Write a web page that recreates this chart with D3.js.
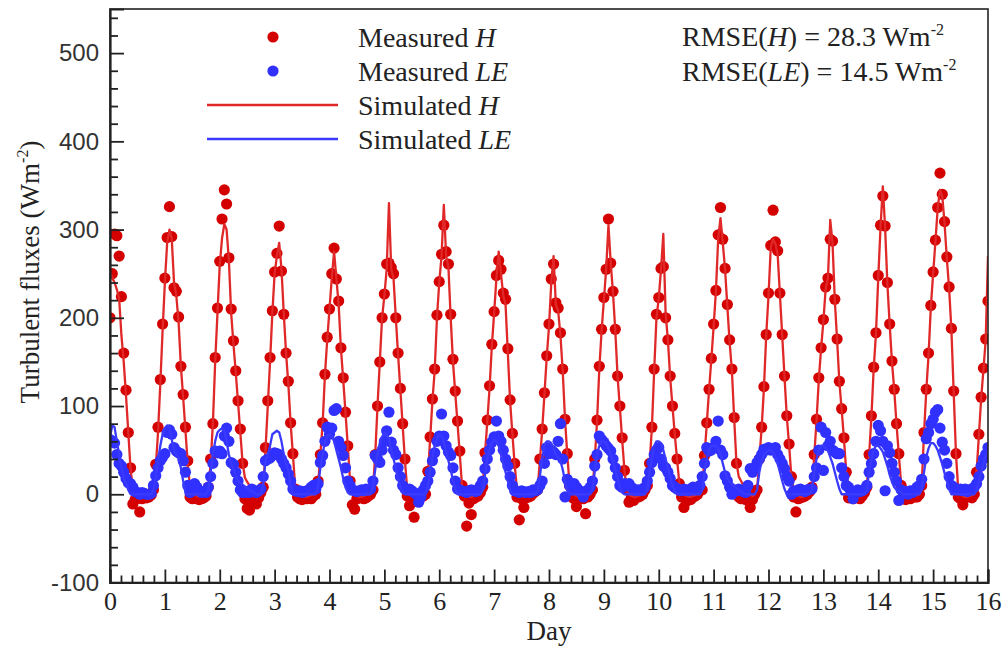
<!DOCTYPE html>
<html><head><meta charset="utf-8">
<script src="https://cdn.jsdelivr.net/npm/d3@7"></script>
<style>body{margin:0;background:#fff}svg{display:block}</style>
</head><body>
<svg id="chart" width="1005" height="654"></svg>
<script>
// ---- data (hourly samples, 24 per day, day 0 .. 16) ----
const xTickValues = [0,1,2,3,4,5,6,7,8,9,10,11,12,13,14,15,16];
const xTickLabels = ["0","1","2","3","4","5","6","7","8","9","10","11","12","13","14","15","16"];
const yTickValues = [-100,0,100,200,300,400,500];
const yTickLabels = ["-100","0","100","200","300","400","500"];
const samplesPerDay = 24;

const measuredH = [
 200,250,295,293,270,224,160,118,70,30,-11,-6,-4,-20,-5,-3,-4,-3,-1,5,34,76,130,193,
 245,291,326,292,234,230,201,145,113,76,38,-3,-5,-4,-5,-6,-5,-4,-2,8,40,80,155,211,
 264,312,345,329,268,210,174,140,106,74,35,-5,-16,-18,-7,-9,-11,-4,2,8,53,106,155,208,
 252,273,304,253,204,160,128,81,46,6,-3,-5,-6,-4,-5,-3,-5,-2,0,15,45,81,136,178,
 210,250,279,244,219,166,132,93,55,15,-12,-17,-5,-4,-3,-5,-4,-2,0,5,45,100,150,200,
 227,261,262,257,250,200,160,120,80,40,-2,-13,-8,-26,-5,-4,-3,-2,0,26,65,108,142,203,
 241,272,305,275,261,204,153,117,83,49,10,-2,-36,-10,-23,-5,-3,-2,2,8,47,84,123,170,
 207,248,265,255,228,221,165,107,69,35,-3,-29,-5,-15,-4,-3,-2,1,3,5,40,74,115,157,
 193,244,261,217,211,183,142,85,46,10,-3,-5,-14,-6,-4,-5,-22,-3,0,5,40,84,145,187,
 223,255,312,262,230,187,134,100,64,27,5,-9,-4,-7,-4,-3,-2,0,5,10,35,76,142,204,
 223,256,258,200,175,134,100,69,40,12,-3,-15,-8,-4,-6,-3,-2,0,5,5,44,81,119,154,
 193,231,294,325,289,256,215,175,142,87,35,-3,-5,-4,-6,-3,-15,-6,0,5,40,76,122,181,
 228,282,322,286,276,228,181,134,89,57,20,-3,-20,-5,-4,-3,-2,0,3,8,45,85,132,166,
 198,235,245,289,287,221,176,128,97,64,25,-4,-3,-5,-4,-3,-5,-2,2,8,45,89,144,183,
 248,305,338,304,240,193,151,119,80,46,10,-4,-6,-3,-5,-2,-3,-3,0,10,70,119,160,214,
 252,288,325,364,340,309,269,235,188,117,46,-3,-5,-12,-4,-3,-2,-4,0,25,68,110,143,176,
 219
];

const simulatedH = [
 252,245,240,232,222,180,150,112,70,28,8,3,0,-2,-3,-3,-2,-1,0,5,30,70,125,185,
 240,285,300,290,240,225,195,145,110,72,35,8,2,0,-2,-3,-3,-2,0,5,35,80,150,205,
 260,290,306,300,265,205,170,138,104,70,35,19,14,10,6,3,0,-2,0,5,50,100,150,205,
 250,270,285,255,205,160,125,80,45,8,3,0,-2,-3,-3,-2,-1,0,0,10,45,80,135,175,
 210,245,275,245,215,165,130,92,55,15,3,0,-2,-3,-3,-2,-1,0,0,5,45,100,150,200,
 225,255,330,255,245,200,158,118,78,38,5,0,-2,-3,-3,-2,-1,0,0,20,62,105,140,200,
 240,270,328,270,258,200,150,115,80,45,8,0,-2,-3,-3,-2,-1,0,0,8,45,82,120,168,
 205,245,275,250,225,215,160,105,68,33,5,0,-2,-3,-3,-2,-1,0,0,5,38,72,113,155,
 190,240,270,215,208,180,140,85,45,10,2,0,-2,-3,-3,-2,-1,0,0,5,38,82,142,185,
 220,255,305,262,228,185,133,98,62,27,5,0,-2,-3,-3,-2,-1,0,0,8,35,75,140,200,
 222,255,295,205,175,132,100,68,40,12,3,0,-2,-3,-3,-2,-1,0,0,5,42,80,118,153,
 190,230,290,313,285,255,213,172,140,85,35,20,15,10,6,3,0,-2,0,5,40,75,120,180,
 225,280,289,284,272,226,180,133,88,56,20,5,0,-2,-3,-3,-2,0,0,8,43,83,130,165,
 196,233,245,311,285,220,175,127,96,63,25,10,6,3,0,-2,-2,-1,0,8,44,87,142,182,
 245,303,349,302,238,192,150,118,79,45,12,8,5,2,0,-2,-2,-1,0,10,68,117,158,212,
 250,286,324,345,338,307,267,233,186,115,45,5,0,-2,-3,-3,-2,-1,0,25,66,108,141,175,
 270
];

const measuredLE = [
 62,60,58,45,35,32,25,18,13,12,8,3,2,0,2,1,0,0,1,10,21,30,38,42,
 46,70,73,68,53,49,47,46,38,25,10,2,5,12,8,4,2,3,2,8,20,35,49,47,
 49,46,66,75,60,36,34,25,15,5,2,2,3,2,6,3,2,4,6,20,38,40,41,44,
 47,46,45,40,35,30,23,15,6,4,3,4,2,3,4,5,8,10,6,12,36,44,60,76,
 68,75,95,97,60,53,44,30,15,10,5,4,3,4,5,4,6,5,6,15,44,40,36,50,
 60,72,93,59,50,45,30,20,10,6,5,6,4,2,0,-9,-3,5,10,15,25,38,47,60,
 66,91,66,55,48,44,30,15,6,5,4,3,2,4,5,4,3,6,10,15,29,40,50,59,
 65,83,66,60,50,40,32,20,10,4,3,2,4,3,2,3,2,5,4,5,10,15,35,53,
 46,50,48,45,60,80,40,-3,17,10,5,12,8,5,2,-3,3,5,8,15,32,45,66,62,
 59,55,52,49,40,30,20,10,8,12,10,12,8,6,4,5,4,6,8,15,25,36,45,50,
 53,40,32,30,25,18,10,8,6,5,4,6,5,4,6,8,5,6,10,20,35,53,49,50,
 53,60,83,50,45,21,15,8,0,5,4,6,4,3,2,10,29,25,30,36,40,45,51,50,
 53,50,51,53,45,40,35,29,20,15,0,4,3,5,6,4,3,5,6,6,20,30,50,76,
 27,70,55,60,50,48,46,46,30,20,10,8,3,-5,2,5,3,4,6,10,25,35,46,60,
 78,72,60,4,55,47,35,25,15,-7,5,2,3,0,4,2,5,8,10,17,40,63,70,80,
 85,93,96,75,59,50,35,20,10,8,6,5,6,4,6,3,5,6,8,12,20,32,40,45,
 53
];

const simulatedLE = [
 65,78,76,60,45,30,20,12,5,0,0,0,0,0,0,0,0,0,0,5,20,38,55,68,
 75,78,76,62,50,45,40,30,15,2,0,0,0,0,0,0,0,0,0,5,25,45,60,70,
 73,75,72,60,45,35,28,22,15,13,11,9,7,5,3,2,0,0,0,10,38,45,55,68,
 70,72,70,60,45,35,27,10,0,0,0,0,0,0,0,0,0,0,0,8,30,45,60,66,
 68,66,60,50,40,30,18,8,2,0,0,0,0,0,0,0,0,0,0,8,28,45,58,65,
 70,68,62,50,40,30,18,8,2,0,0,0,0,0,0,0,0,0,0,8,25,42,55,62,
 68,66,60,48,38,28,16,6,0,0,0,0,0,0,0,0,0,0,0,5,22,40,52,58,
 62,60,55,45,35,25,15,5,0,0,0,0,0,0,0,0,0,0,0,5,20,40,55,60,
 60,58,52,45,42,38,28,15,5,0,0,0,0,0,0,0,0,0,0,5,25,45,55,60,
 60,58,52,45,38,28,18,8,2,0,0,0,0,0,0,0,0,0,0,5,25,40,55,60,
 60,58,50,40,30,20,10,4,0,0,0,0,0,0,0,0,0,0,0,5,25,40,50,55,
 55,55,52,45,35,25,18,14,11,9,7,5,3,1,0,0,0,0,0,5,25,38,45,48,
 50,50,48,42,35,25,15,6,0,0,0,0,0,0,0,0,0,0,0,5,25,40,50,55,
 55,52,50,42,35,25,15,6,0,0,0,0,0,0,0,0,0,0,0,5,25,40,50,55,
 55,52,48,40,32,22,14,8,5,3,2,0,0,0,0,0,0,0,0,5,25,42,52,58,
 58,55,50,42,34,24,15,6,0,0,0,0,0,0,0,0,0,0,0,5,15,25,35,45,
 50
];

const legendItems = [
  {kind:"dot", color:"#d40000", label:"Measured ", ital:"H"},
  {kind:"dot", color:"#3030ff", label:"Measured ", ital:"LE"},
  {kind:"line", color:"#e02828", label:"Simulated ", ital:"H"},
  {kind:"line", color:"#3a3aff", label:"Simulated ", ital:"LE"}
];
const rmseItems = [
  {name:"H", value:"28.3"},
  {name:"LE", value:"14.5"}
];

// ---- drawing ----
(function(){
const svg = d3.select("#chart");
const mLeft = 110, mRight = 988, mTop = 9, mBottom = 582.5;
const x = d3.scaleLinear().domain([0,16]).range([mLeft,mRight]);
const y = d3.scaleLinear().domain([-100,550]).range([mBottom,mTop]);
const ink = "#222";
const serif = "'Liberation Serif', 'Times New Roman', serif";

svg.append("defs").append("clipPath").attr("id","clip")
  .append("rect").attr("x",mLeft).attr("y",mTop).attr("width",mRight-mLeft).attr("height",mBottom-mTop);

const plot = svg.append("g").attr("clip-path","url(#clip)");
const tx = (d,i) => x(i/samplesPerDay);

plot.append("g").selectAll("circle").data(measuredH).join("circle")
  .attr("cx",tx).attr("cy",d=>y(d)).attr("r",5.6).attr("fill","#d40000");
plot.append("path").datum(simulatedH)
  .attr("d", d3.line().x(tx).y(d=>y(d)))
  .attr("fill","none").attr("stroke","#e02828").attr("stroke-width",2.3).attr("stroke-linejoin","round");
plot.append("g").selectAll("circle").data(measuredLE).join("circle")
  .attr("cx",tx).attr("cy",d=>y(d)).attr("r",5.6).attr("fill","#3030ff");
plot.append("path").datum(simulatedLE)
  .attr("d", d3.line().x(tx).y(d=>y(d)))
  .attr("fill","none").attr("stroke","#3a3aff").attr("stroke-width",2.3).attr("stroke-linejoin","round");

svg.append("rect").attr("x",mLeft).attr("y",mTop).attr("width",mRight-mLeft).attr("height",mBottom-mTop)
  .attr("fill","none").attr("stroke",ink).attr("stroke-width",1.6);

const xMinor = d3.range(0,16.001,0.2).filter(v=>Math.abs(v-Math.round(v))>1e-6);
const gxMinor = svg.append("g").attr("transform",`translate(0,${mBottom})`)
  .call(d3.axisBottom(x).tickValues(xMinor).tickSize(-7).tickFormat(""));
gxMinor.select(".domain").remove();
const gx = svg.append("g").attr("transform",`translate(0,${mBottom})`)
  .call(d3.axisBottom(x).tickValues(xTickValues).tickSize(-13).tickPadding(9)
    .tickFormat((d,i)=>xTickLabels[i]));
gx.selectAll("text").attr("font-family",serif).attr("font-size",26).attr("fill",ink);

const yMinor = d3.range(-100,550.001,20).filter(v=>v%100!==0);
const gyMinor = svg.append("g").attr("transform",`translate(${mLeft},0)`)
  .call(d3.axisLeft(y).tickValues(yMinor).tickSize(-8).tickFormat(""));
gyMinor.select(".domain").remove();
const gy = svg.append("g").attr("transform",`translate(${mLeft},0)`)
  .call(d3.axisLeft(y).tickValues(yTickValues).tickSize(-14).tickPadding(11)
    .tickFormat((d,i)=>yTickLabels[i]));
gy.selectAll("text").attr("font-family","'Liberation Sans', Arial, sans-serif")
  .attr("font-size",24).attr("fill","#333");

svg.selectAll(".domain").attr("stroke",ink).attr("stroke-width",2.2);
svg.selectAll(".tick line").attr("stroke",ink).attr("stroke-width",1.8);

svg.append("text").attr("x",(mLeft+mRight)/2).attr("y",640)
  .attr("text-anchor","middle").attr("font-family",serif).attr("font-size",27).attr("fill",ink)
  .text("Day");
const yt = svg.append("text").attr("transform","translate(39,272) rotate(-90)")
  .attr("text-anchor","middle").attr("font-family",serif).attr("font-size",27).attr("fill",ink);
yt.append("tspan").text("Turbulent fluxes (Wm");
yt.append("tspan").attr("font-size",16).attr("dy",-11).text("-2");
yt.append("tspan").attr("dy",11).text(")");

const lg = svg.append("g");
legendItems.forEach((it,i)=>{
  const cy = 37 + i*34;
  if (it.kind==="dot") {
    lg.append("circle").attr("cx",273).attr("cy",cy).attr("r",5.6).attr("fill",it.color);
  } else {
    lg.append("line").attr("x1",207).attr("x2",338).attr("y1",cy).attr("y2",cy)
      .attr("stroke",it.color).attr("stroke-width",2.3);
  }
  const t = lg.append("text").attr("x",358).attr("y",cy+9.5)
    .attr("font-family",serif).attr("font-size",28).attr("fill",ink);
  t.append("tspan").text(it.label);
  t.append("tspan").attr("font-style","italic").text(it.ital);
});

rmseItems.forEach((r,i)=>{
  const t = svg.append("text").attr("x",682).attr("y",46 + i*35)
    .attr("font-family",serif).attr("font-size",28).attr("fill",ink);
  t.append("tspan").text("RMSE(");
  t.append("tspan").attr("font-style","italic").text(r.name);
  t.append("tspan").text(") = " + r.value + " Wm");
  t.append("tspan").attr("font-size",16).attr("dy",-11).text("-2");
});
})();
</script>
</body></html>
